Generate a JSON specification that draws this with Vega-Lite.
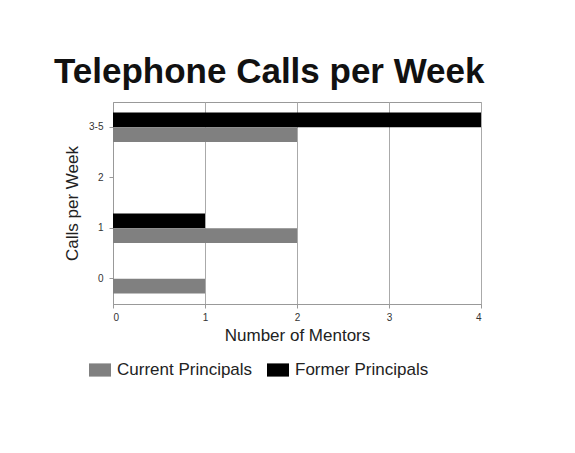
{
  "$schema": "https://vega.github.io/schema/vega-lite/v6.json",
  "autosize": "none",
  "width": 368,
  "height": 202,
  "padding": {"left": 113, "top": 102, "right": 94, "bottom": 149},
  "background": "white",
  "title": {
    "text": "Telephone Calls per Week",
    "anchor": "start",
    "frame": "group",
    "dx": -59,
    "offset": 12,
    "font": "Liberation Sans",
    "fontSize": 35,
    "fontWeight": "bold",
    "color": "#111111"
  },
  "data": {
    "values": [
      {"calls": "3-5", "group": "Former Principals", "mentors": 4},
      {"calls": "3-5", "group": "Current Principals", "mentors": 2},
      {"calls": "2", "group": "Former Principals", "mentors": 0},
      {"calls": "2", "group": "Current Principals", "mentors": 0},
      {"calls": "1", "group": "Former Principals", "mentors": 1},
      {"calls": "1", "group": "Current Principals", "mentors": 2},
      {"calls": "0", "group": "Former Principals", "mentors": 0},
      {"calls": "0", "group": "Current Principals", "mentors": 1}
    ]
  },
  "mark": {"type": "bar"},
  "encoding": {
    "y": {
      "field": "calls",
      "type": "nominal",
      "sort": ["3-5", "2", "1", "0"],
      "scale": {"paddingInner": 0.42, "paddingOuter": 0.21},
      "axis": {
        "title": "Calls per Week",
        "titleFont": "Liberation Sans",
        "titleFontSize": 17,
        "titleFontWeight": "normal",
        "titleColor": "#222",
        "titlePadding": 7,
        "labelFont": "Liberation Sans",
        "labelFontSize": 10,
        "labelColor": "#333",
        "labelPadding": 6,
        "domainColor": "#999",
        "tickColor": "#999",
        "tickSize": 4
      }
    },
    "yOffset": {
      "field": "group",
      "type": "nominal",
      "sort": ["Former Principals", "Current Principals"],
      "scale": {"paddingInner": 0, "paddingOuter": 0}
    },
    "x": {
      "field": "mentors",
      "type": "quantitative",
      "scale": {"domain": [0, 4], "nice": false},
      "axis": {
        "title": "Number of Mentors",
        "values": [0, 1, 2, 3, 4],
        "format": "d",
        "titleFont": "Liberation Sans",
        "titleFontSize": 17,
        "titleFontWeight": "normal",
        "titleColor": "#222",
        "titlePadding": 5,
        "labelFont": "Liberation Sans",
        "labelFontSize": 10,
        "labelColor": "#333",
        "labelPadding": 4,
        "domainColor": "#999",
        "tickColor": "#999",
        "tickSize": 4,
        "grid": true,
        "gridColor": "#aaa"
      }
    },
    "color": {
      "field": "group",
      "type": "nominal",
      "scale": {
        "domain": ["Current Principals", "Former Principals"],
        "range": ["#808080", "#000000"]
      },
      "legend": {
        "title": null,
        "orient": "none",
        "direction": "horizontal",
        "legendX": -24,
        "legendY": 257,
        "symbolType": "M-1,-0.6H1V0.6H-1Z",
        "symbolSize": 484,
        "symbolStrokeWidth": 0,
        "labelFont": "Liberation Sans",
        "labelFontSize": 17,
        "labelColor": "#222",
        "labelOffset": 6,
        "columnPadding": 14
      }
    }
  },
  "config": {
    "view": {"stroke": "#999"}
  }
}
